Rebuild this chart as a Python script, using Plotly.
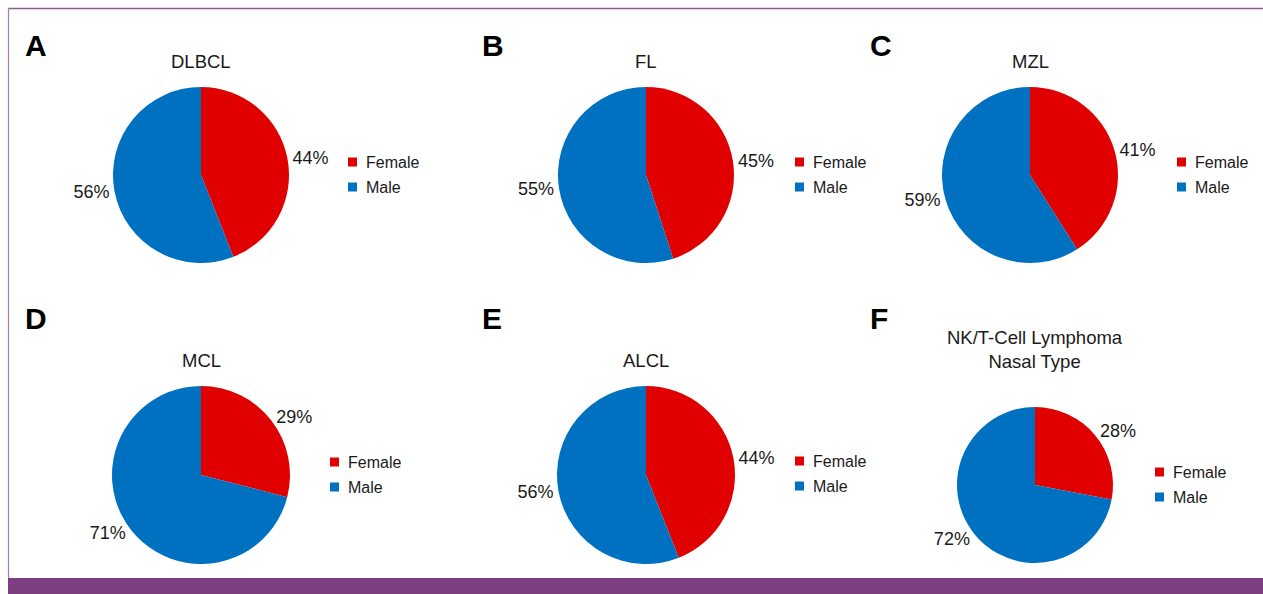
import plotly.graph_objects as go

W, H = 1263, 594

labels = ["Female", "Male"]
panel_letters = ["A", "B", "C", "D", "E", "F"]
panel_titles = ["DLBCL", "FL", "MZL", "MCL", "ALCL", "NK/T-Cell Lymphoma<br>Nasal Type"]
female_pct = [44, 45, 41, 29, 44, 28]
male_pct = [56, 55, 59, 71, 56, 72]

colors = ["#E00000", "#0070C0"]
FONT = "Liberation Sans, Arial, Helvetica, sans-serif"
TXT = "#1a1a1a"

# layout (pixel) for each panel
centers = [(201, 175), (646, 175), (1030, 175), (201, 475), (646, 475), (1035, 485)]
radii = [88, 88, 88, 89, 89, 78]
legend_pos = [(348, 162), (795, 162), (1177, 162), (330, 462), (795, 461), (1155, 472)]
title_pos = [(201, 62), (646, 62), (1030, 62), (201, 360), (646, 360), (1035, 349)]
letter_pos = [(23, 45), (480, 45), (868, 45), (23, 318), (480, 318), (868, 318)]


def px(x):
    return x / W


def py(y):
    return 1 - y / H


fig = go.Figure()
annotations = []
shapes = []
SQ = 9
for i in range(6):
    cx, cy = centers[i]
    r = radii[i]
    fig.add_trace(go.Pie(
        labels=labels,
        values=[female_pct[i], male_pct[i]],
        marker=dict(colors=colors, line=dict(width=0)),
        sort=False,
        direction="clockwise",
        rotation=0,
        textposition="outside",
        texttemplate="%{value}%",
        textfont=dict(size=18, color=TXT, family=FONT),
        domain=dict(x=[px(cx - r), px(cx + r)], y=[py(cy + r), py(cy - r)]),
        showlegend=False,
        hoverinfo="label+percent",
    ))
    # manual legend
    lx, ly = legend_pos[i]
    for j, lab in enumerate(labels):
        yy = ly + 25 * j
        shapes.append(dict(
            type="rect", xref="paper", yref="paper",
            x0=px(lx), x1=px(lx + SQ), y0=py(yy + SQ / 2), y1=py(yy - SQ / 2),
            fillcolor=colors[j], line=dict(width=0),
        ))
        annotations.append(dict(
            x=px(lx + 16), y=py(yy), xref="paper", yref="paper", text=lab,
            showarrow=False, xanchor="left", yanchor="middle",
            font=dict(size=16, family=FONT, color=TXT),
        ))
    tx, ty = title_pos[i]
    annotations.append(dict(
        x=px(tx), y=py(ty), xref="paper", yref="paper", text=panel_titles[i],
        showarrow=False, xanchor="center", yanchor="middle",
        font=dict(size=18.5, family=FONT, color=TXT),
    ))
    ax, ay = letter_pos[i]
    annotations.append(dict(
        x=px(ax), y=py(ay), xref="paper", yref="paper", text="<b>" + panel_letters[i] + "</b>",
        showarrow=False, xanchor="left", yanchor="middle",
        font=dict(size=30, family=FONT, color="#000000"),
    ))

shapes += [
    dict(type="line", xref="paper", yref="paper", x0=px(8), x1=1.0, y0=py(8.5), y1=py(8.5),
         line=dict(color="#8E5A95", width=1.5)),
    dict(type="line", xref="paper", yref="paper", x0=px(8.5), x1=px(8.5), y0=py(8), y1=py(578),
         line=dict(color="#A47BAA", width=1.2)),
    dict(type="rect", xref="paper", yref="paper", x0=px(8), x1=1.0, y0=0, y1=py(578),
         fillcolor="#7B3F80", line=dict(width=0)),
]

fig.update_layout(
    width=W, height=H,
    margin=dict(l=0, r=0, t=0, b=0),
    paper_bgcolor="white", plot_bgcolor="white",
    annotations=annotations,
    shapes=shapes,
    showlegend=False,
)

fig.write_html(
    "out.html",
    config={"displayModeBar": False},
    post_script="document.body.style.margin='0px';document.body.style.overflow='hidden';",
)
